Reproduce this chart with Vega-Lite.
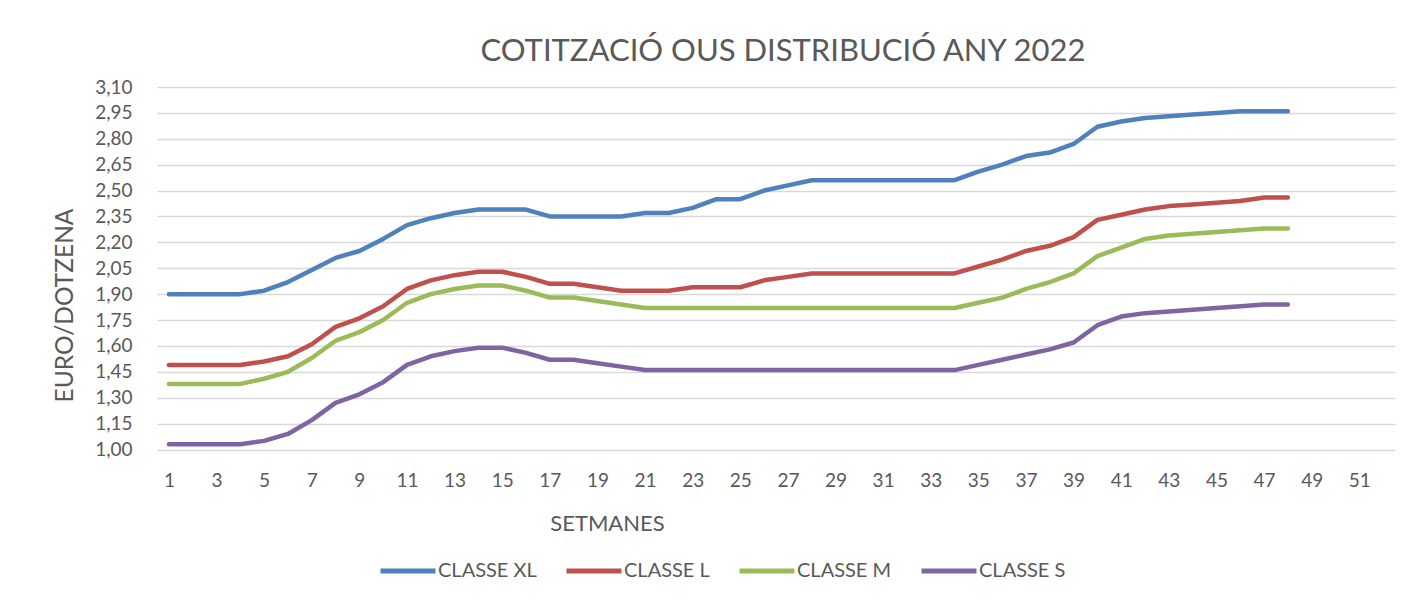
{
  "$schema": "https://vega.github.io/schema/vega-lite/v6.json",
  "width": 1238,
  "height": 362.5,
  "autosize": "none",
  "padding": {"left": 157, "top": 87, "right": 26, "bottom": 151.5},
  "background": "white",
  "title": {
    "text": "COTITZACIÓ OUS DISTRIBUCIÓ ANY 2022",
    "font": "Lato",
    "fontSize": 31,
    "fontWeight": "normal",
    "color": "#595959",
    "anchor": "middle",
    "baseline": "alphabetic",
    "offset": 24,
    "dx": 7,
    "dy": 38
  },
  "data": {
    "values": [
      {"w": 1, "CLASSE XL": 1.90, "CLASSE L": 1.49, "CLASSE M": 1.38, "CLASSE S": 1.03},
      {"w": 2, "CLASSE XL": 1.90, "CLASSE L": 1.49, "CLASSE M": 1.38, "CLASSE S": 1.03},
      {"w": 3, "CLASSE XL": 1.90, "CLASSE L": 1.49, "CLASSE M": 1.38, "CLASSE S": 1.03},
      {"w": 4, "CLASSE XL": 1.90, "CLASSE L": 1.49, "CLASSE M": 1.38, "CLASSE S": 1.03},
      {"w": 5, "CLASSE XL": 1.92, "CLASSE L": 1.51, "CLASSE M": 1.41, "CLASSE S": 1.05},
      {"w": 6, "CLASSE XL": 1.97, "CLASSE L": 1.54, "CLASSE M": 1.45, "CLASSE S": 1.09},
      {"w": 7, "CLASSE XL": 2.04, "CLASSE L": 1.61, "CLASSE M": 1.53, "CLASSE S": 1.17},
      {"w": 8, "CLASSE XL": 2.11, "CLASSE L": 1.71, "CLASSE M": 1.63, "CLASSE S": 1.27},
      {"w": 9, "CLASSE XL": 2.15, "CLASSE L": 1.76, "CLASSE M": 1.68, "CLASSE S": 1.32},
      {"w": 10, "CLASSE XL": 2.22, "CLASSE L": 1.83, "CLASSE M": 1.75, "CLASSE S": 1.39},
      {"w": 11, "CLASSE XL": 2.30, "CLASSE L": 1.93, "CLASSE M": 1.85, "CLASSE S": 1.49},
      {"w": 12, "CLASSE XL": 2.34, "CLASSE L": 1.98, "CLASSE M": 1.90, "CLASSE S": 1.54},
      {"w": 13, "CLASSE XL": 2.37, "CLASSE L": 2.01, "CLASSE M": 1.93, "CLASSE S": 1.57},
      {"w": 14, "CLASSE XL": 2.39, "CLASSE L": 2.03, "CLASSE M": 1.95, "CLASSE S": 1.59},
      {"w": 15, "CLASSE XL": 2.39, "CLASSE L": 2.03, "CLASSE M": 1.95, "CLASSE S": 1.59},
      {"w": 16, "CLASSE XL": 2.39, "CLASSE L": 2.00, "CLASSE M": 1.92, "CLASSE S": 1.56},
      {"w": 17, "CLASSE XL": 2.35, "CLASSE L": 1.96, "CLASSE M": 1.88, "CLASSE S": 1.52},
      {"w": 18, "CLASSE XL": 2.35, "CLASSE L": 1.96, "CLASSE M": 1.88, "CLASSE S": 1.52},
      {"w": 19, "CLASSE XL": 2.35, "CLASSE L": 1.94, "CLASSE M": 1.86, "CLASSE S": 1.50},
      {"w": 20, "CLASSE XL": 2.35, "CLASSE L": 1.92, "CLASSE M": 1.84, "CLASSE S": 1.48},
      {"w": 21, "CLASSE XL": 2.37, "CLASSE L": 1.92, "CLASSE M": 1.82, "CLASSE S": 1.46},
      {"w": 22, "CLASSE XL": 2.37, "CLASSE L": 1.92, "CLASSE M": 1.82, "CLASSE S": 1.46},
      {"w": 23, "CLASSE XL": 2.40, "CLASSE L": 1.94, "CLASSE M": 1.82, "CLASSE S": 1.46},
      {"w": 24, "CLASSE XL": 2.45, "CLASSE L": 1.94, "CLASSE M": 1.82, "CLASSE S": 1.46},
      {"w": 25, "CLASSE XL": 2.45, "CLASSE L": 1.94, "CLASSE M": 1.82, "CLASSE S": 1.46},
      {"w": 26, "CLASSE XL": 2.50, "CLASSE L": 1.98, "CLASSE M": 1.82, "CLASSE S": 1.46},
      {"w": 27, "CLASSE XL": 2.53, "CLASSE L": 2.00, "CLASSE M": 1.82, "CLASSE S": 1.46},
      {"w": 28, "CLASSE XL": 2.56, "CLASSE L": 2.02, "CLASSE M": 1.82, "CLASSE S": 1.46},
      {"w": 29, "CLASSE XL": 2.56, "CLASSE L": 2.02, "CLASSE M": 1.82, "CLASSE S": 1.46},
      {"w": 30, "CLASSE XL": 2.56, "CLASSE L": 2.02, "CLASSE M": 1.82, "CLASSE S": 1.46},
      {"w": 31, "CLASSE XL": 2.56, "CLASSE L": 2.02, "CLASSE M": 1.82, "CLASSE S": 1.46},
      {"w": 32, "CLASSE XL": 2.56, "CLASSE L": 2.02, "CLASSE M": 1.82, "CLASSE S": 1.46},
      {"w": 33, "CLASSE XL": 2.56, "CLASSE L": 2.02, "CLASSE M": 1.82, "CLASSE S": 1.46},
      {"w": 34, "CLASSE XL": 2.56, "CLASSE L": 2.02, "CLASSE M": 1.82, "CLASSE S": 1.46},
      {"w": 35, "CLASSE XL": 2.61, "CLASSE L": 2.06, "CLASSE M": 1.85, "CLASSE S": 1.49},
      {"w": 36, "CLASSE XL": 2.65, "CLASSE L": 2.10, "CLASSE M": 1.88, "CLASSE S": 1.52},
      {"w": 37, "CLASSE XL": 2.70, "CLASSE L": 2.15, "CLASSE M": 1.93, "CLASSE S": 1.55},
      {"w": 38, "CLASSE XL": 2.72, "CLASSE L": 2.18, "CLASSE M": 1.97, "CLASSE S": 1.58},
      {"w": 39, "CLASSE XL": 2.77, "CLASSE L": 2.23, "CLASSE M": 2.02, "CLASSE S": 1.62},
      {"w": 40, "CLASSE XL": 2.87, "CLASSE L": 2.33, "CLASSE M": 2.12, "CLASSE S": 1.72},
      {"w": 41, "CLASSE XL": 2.90, "CLASSE L": 2.36, "CLASSE M": 2.17, "CLASSE S": 1.77},
      {"w": 42, "CLASSE XL": 2.92, "CLASSE L": 2.39, "CLASSE M": 2.22, "CLASSE S": 1.79},
      {"w": 43, "CLASSE XL": 2.93, "CLASSE L": 2.41, "CLASSE M": 2.24, "CLASSE S": 1.80},
      {"w": 44, "CLASSE XL": 2.94, "CLASSE L": 2.42, "CLASSE M": 2.25, "CLASSE S": 1.81},
      {"w": 45, "CLASSE XL": 2.95, "CLASSE L": 2.43, "CLASSE M": 2.26, "CLASSE S": 1.82},
      {"w": 46, "CLASSE XL": 2.96, "CLASSE L": 2.44, "CLASSE M": 2.27, "CLASSE S": 1.83},
      {"w": 47, "CLASSE XL": 2.96, "CLASSE L": 2.46, "CLASSE M": 2.28, "CLASSE S": 1.84},
      {"w": 48, "CLASSE XL": 2.96, "CLASSE L": 2.46, "CLASSE M": 2.28, "CLASSE S": 1.84}
    ]
  },
  "transform": [
    {"fold": ["CLASSE XL", "CLASSE L", "CLASSE M", "CLASSE S"], "as": ["classe", "preu"]}
  ],
  "mark": {"type": "line", "strokeWidth": 4.5, "strokeCap": "round", "strokeJoin": "round"},
  "encoding": {
    "x": {
      "field": "w",
      "type": "quantitative",
      "scale": {"domain": [0.5, 52.5], "nice": false, "zero": false},
      "axis": {
        "values": [1, 3, 5, 7, 9, 11, 13, 15, 17, 19, 21, 23, 25, 27, 29, 31, 33, 35, 37, 39, 41, 43, 45, 47, 49, 51],
        "grid": false,
        "domain": false,
        "ticks": false,
        "labelPadding": 22,
        "labelFontSize": 19,
        "title": "SETMANES",
        "titleFontSize": 22,
        "titleX": 450,
        "titleY": 73.5,
        "titleBaseline": "middle",
        "titleAnchor": null
      }
    },
    "y": {
      "field": "preu",
      "type": "quantitative",
      "scale": {"domain": [1.0, 3.1], "nice": false, "zero": false},
      "axis": {
        "values": [1.0, 1.15, 1.3, 1.45, 1.6, 1.75, 1.9, 2.05, 2.2, 2.35, 2.5, 2.65, 2.8, 2.95, 3.1],
        "labelExpr": "replace(format(datum.value, '.2f'), '.', ',')",
        "grid": true,
        "gridColor": "#D9D9D9",
        "gridWidth": 1.3,
        "domain": false,
        "ticks": false,
        "labelPadding": 25,
        "labelFontSize": 19,
        "title": "EURO/DOTZENA",
        "titleFontSize": 24.5,
        "titleX": -92,
        "titleY": 218,
        "titleAngle": -90,
        "titleBaseline": "middle",
        "titleAlign": "center"
      }
    },
    "color": {
      "field": "classe",
      "type": "nominal",
      "scale": {
        "domain": ["CLASSE XL", "CLASSE L", "CLASSE M", "CLASSE S"],
        "range": ["#4F81BD", "#C0504D", "#9BBB59", "#8064A2"]
      },
      "legend": {
        "orient": "none",
        "direction": "horizontal",
        "legendX": 221,
        "legendY": 454,
        "title": null,
        "symbolType": "stroke",
        "symbolSize": 3025,
        "symbolStrokeWidth": 5,
        "labelFontSize": 20,
        "labelOffset": 0,
        "columnPadding": 19
      }
    }
  },
  "config": {
    "view": {"stroke": null},
    "font": "Lato",
    "axis": {
      "labelFont": "Lato",
      "titleFont": "Lato",
      "labelColor": "#595959",
      "titleColor": "#595959",
      "titleFontWeight": "normal"
    },
    "legend": {
      "labelFont": "Lato",
      "labelColor": "#595959"
    }
  }
}
